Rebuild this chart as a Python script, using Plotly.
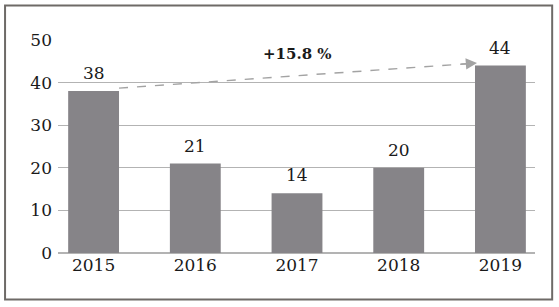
import plotly.graph_objects as go

years = ["2015", "2016", "2017", "2018", "2019"]
values = [38, 21, 14, 20, 44]
y_ticks = [0, 10, 20, 30, 40, 50]
growth_label = "+15.8 %"

FONT = "DejaVu Serif, Liberation Serif, serif"
TXT = "#1a1a1a"

fig = go.Figure()
fig.add_trace(go.Bar(
    x=years, y=values, width=0.5,
    marker=dict(color="#868488", line=dict(width=0)),
    hoverinfo="x+y",
))

# value labels above bars (category index positions)
for i, v in enumerate(values):
    fig.add_annotation(x=i, y=v, xref="x", yref="y", text=str(v),
                       showarrow=False, yanchor="bottom", yshift=6,
                       font=dict(family=FONT, size=17, color=TXT))

# dashed growth line from first bar to last bar, with arrowhead
fig.add_shape(type="line", xref="x", yref="y", x0=0.25, y0=38.7, x1=3.68, y1=44.43,
              line=dict(color="#a3a3a3", width=1.4, dash="dash"))
fig.add_annotation(
    x=3.77, y=44.6, ax=3.6, ay=44.3,
    xref="x", yref="y", axref="x", ayref="y",
    showarrow=True, arrowhead=2, arrowsize=1.6, arrowwidth=1.4,
    arrowcolor="#a3a3a3", text="",
)
fig.add_annotation(
    x=2.0, y=46.8, xref="x", yref="y", text="<b>" + growth_label + "</b>",
    showarrow=False, font=dict(family=FONT, size=15, color=TXT),
)

# frame
fig.add_shape(type="rect", xref="paper", yref="paper",
              x0=-0.111, x1=1.036, y0=-0.218, y1=1.162,
              line=dict(color="#6e6a67", width=2), fillcolor="rgba(0,0,0,0)")

fig.update_layout(
    width=559, height=307,
    margin=dict(l=58, r=24, t=40, b=54, autoexpand=False),
    paper_bgcolor="white", plot_bgcolor="white",
    showlegend=False,
    font=dict(family=FONT, size=17, color=TXT),
)
fig.update_xaxes(type="category", range=[-0.35, 4.34], showgrid=False,
                 showline=False, ticks="", automargin=False,
                 tickfont=dict(family=FONT, size=17, color=TXT))
fig.update_yaxes(range=[0, 50], tickvals=y_ticks, showgrid=True,
                 gridcolor="#b3b3b3", gridwidth=1, zeroline=True,
                 zerolinecolor="#b3b3b3", zerolinewidth=1.5, showline=False,
                 ticks="", ticklabelstandoff=5, automargin=False,
                 tickfont=dict(family=FONT, size=17, color=TXT))

fig.write_html("out.html", config={"displayModeBar": False},
               post_script="document.body.style.margin='0';document.body.style.overflow='hidden';")
